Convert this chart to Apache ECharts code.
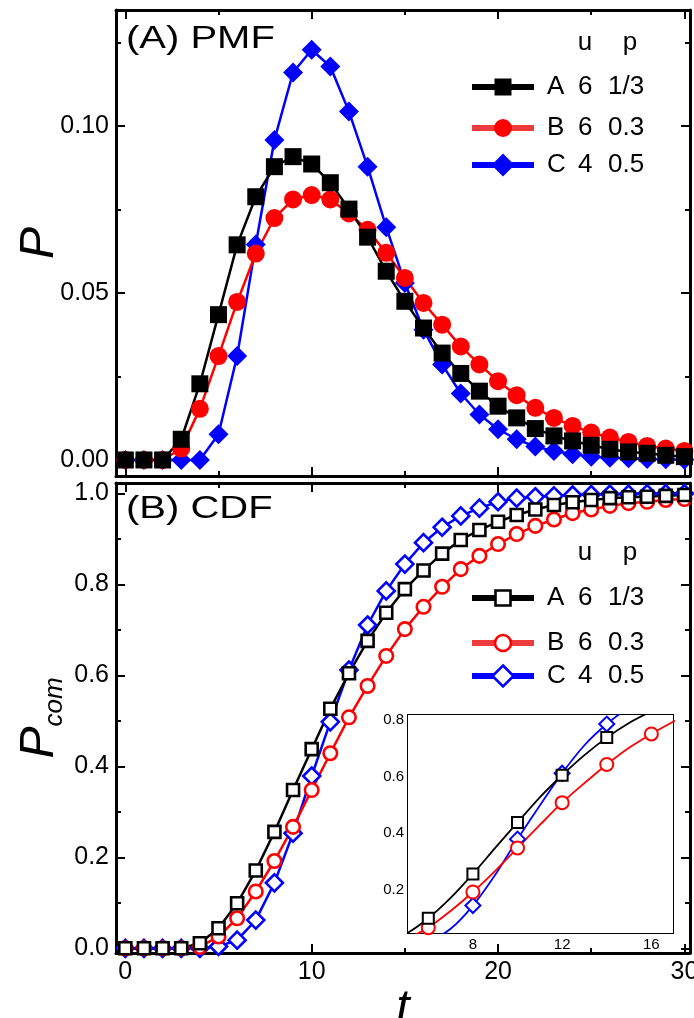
<!DOCTYPE html>
<html>
<head>
<meta charset="utf-8">
<script src="https://cdn.jsdelivr.net/npm/echarts@6/dist/echarts.min.js"></script>
<style>
html,body{margin:0;padding:0;background:#fff;}
#chart{width:694px;height:1018px;}
</style>
</head>
<body>
<div id="chart"></div>
<script>
// ---------------- DATA ----------------
const tValues = [0,1,2,3,4,5,6,7,8,9,10,11,12,13,14,15,16,17,18,19,20,21,22,23,24,25,26,27,28,29,30];

// (A) PMF
const pmfA = [0,0,0,0.0062,0.0228,0.0435,0.0644,0.0788,0.0878,0.0908,0.0886,0.083,0.0751,0.0667,0.0565,0.0475,0.0395,0.032,0.0259,0.0206,0.0161,0.0126,0.0094,0.0072,0.0057,0.0044,0.0032,0.0024,0.002,0.0014,0.001];
const pmfB = [0,0,0,0.0034,0.0153,0.0311,0.0473,0.0618,0.0724,0.078,0.0793,0.078,0.0738,0.0689,0.062,0.0545,0.047,0.0405,0.034,0.0286,0.0236,0.0194,0.0156,0.0126,0.0102,0.0082,0.0067,0.0054,0.0042,0.0034,0.0027];
const pmfC = [0,0,0,0,0,0.0077,0.0311,0.0645,0.0958,0.116,0.1228,0.1178,0.1043,0.0878,0.0697,0.053,0.039,0.0286,0.0199,0.0136,0.0092,0.0062,0.004,0.0027,0.0017,0.001,0.0007,0.0005,0.0003,0.0002,0.0001];

// (B) CDF
const cdfA = [0,0,0,0,0.011,0.044,0.099,0.171,0.256,0.348,0.438,0.527,0.605,0.676,0.738,0.790,0.831,0.868,0.898,0.920,0.938,0.953,0.965,0.975,0.981,0.986,0.990,0.992,0.993,0.995,0.997];
const cdfB = [0,0,0,0,0.003,0.026,0.066,0.125,0.192,0.267,0.348,0.429,0.508,0.577,0.643,0.702,0.751,0.795,0.834,0.863,0.889,0.911,0.929,0.943,0.957,0.965,0.973,0.979,0.982,0.986,0.988];
const cdfC = [0,0,0,0,0,0.004,0.018,0.062,0.144,0.253,0.379,0.498,0.612,0.711,0.786,0.845,0.892,0.926,0.951,0.968,0.982,0.990,0.993,0.995,0.997,0.998,0.999,0.999,1.0,1.0,1.0];

// legend table
const seriesNames = ['A','B','C'];
const uValues = ['6','6','4'];
const pValues = ['1/3','0.3','0.5'];
const legendHeader = ['u','p'];
const panelTitles = ['(A) PMF','(B) CDF'];

// ticks & labels
const xMajor = [0,10,20,30];
const xMajorLabels = ['0','10','20','30'];
const xMinor = [5,15,25];
const pmfMajor = [0,0.05,0.10];
const pmfLabels = ['0.00','0.05','0.10'];
const pmfMinor = [0.025,0.075,0.125];
const cdfMajor = [0,0.2,0.4,0.6,0.8,1.0];
const cdfLabels = ['0.0','0.2','0.4','0.6','0.8','1.0'];
const cdfMinor = [0.1,0.3,0.5,0.7,0.9];
const insetXMajor = [8,12,16];
const insetXLabels = ['8','12','16'];
const insetXMinor = [6,10,14];
const insetYMajor = [0.2,0.4,0.6,0.8];
const insetYLabels = ['0.2','0.4','0.6','0.8'];
const insetYMinor = [0.1,0.3,0.5,0.7];

// ---------------- STYLE ----------------
const FONT = "'Liberation Sans', Arial, sans-serif";
const colors = ['#000000', '#ff0000', '#0000ff'];
const legendLineColors = ['#000000', '#ee3b3b', '#0000ff'];
const symbols = ['rect', 'circle', 'diamond'];

const xAxes = [];
const yAxes = [];

function labelFor(values, labels) {
  return function (v) {
    for (let i = 0; i < values.length; i++) {
      if (Math.abs(values[i] - v) < 1e-9) return labels[i];
    }
    return '';
  };
}

function addAxes(list, dim, gridIndex, min, max, major, minor, labels, cfg) {
  const sides = dim === 'x' ? ['bottom', 'top'] : ['left', 'right'];
  let firstIndex = list.length;
  sides.forEach(function (pos, si) {
    const showLabel = si === 0 && labels;
    const ax = {
      type: 'value', gridIndex: gridIndex, position: pos, min: min, max: max,
      axisLine: { show: true, onZero: false, lineStyle: { color: '#000', width: cfg.lineWidth } },
      axisTick: { show: true, inside: true, length: cfg.majorLen, customValues: major,
        lineStyle: { color: '#000', width: cfg.tickWidth } },
      axisLabel: showLabel ? {
        show: true, customValues: major, formatter: labelFor(major, labels),
        color: '#000', fontFamily: FONT, fontSize: cfg.fontSize, margin: cfg.labelMargin
      } : { show: false },
      splitLine: { show: false },
      minorTick: { show: false }
    };
    if (si === 0 && cfg.name) Object.assign(ax, cfg.name);
    list.push(ax);
    list.push({
      type: 'value', gridIndex: gridIndex, position: pos, min: min, max: max,
      axisLine: { show: false, onZero: false },
      axisTick: { show: true, inside: true, length: cfg.minorLen, customValues: minor,
        lineStyle: { color: '#000', width: cfg.tickWidth } },
      axisLabel: { show: false },
      splitLine: { show: false }
    });
  });
  return firstIndex;
}

const mainCfg = { lineWidth: 3, tickWidth: 2, majorLen: 9, minorLen: 5, fontSize: 25, labelMargin: 7 };
const insetCfg = { lineWidth: 2, tickWidth: 1.5, majorLen: 5, minorLen: 3, fontSize: 15, labelMargin: 4 };

// top panel axes
const topX = addAxes(xAxes, 'x', 0, -0.5, 30.3, xMajor, xMinor, null, mainCfg);
const topY = addAxes(yAxes, 'y', 0, -0.0048, 0.1347, pmfMajor, pmfMinor, pmfLabels, Object.assign({}, mainCfg, {
  name: { name: 'P', nameLocation: 'middle', nameRotate: 90, nameGap: 52, nameMoveOverlap: false,
    nameTextStyle: { fontFamily: FONT, fontStyle: 'italic', fontSize: 48, color: '#000' } }
}));
// bottom panel axes
const botX = addAxes(xAxes, 'x', 1, -0.5, 30.3, xMajor, xMinor, xMajorLabels, Object.assign({}, mainCfg, {
  name: { name: 't', nameLocation: 'middle', nameGap: 20,
    nameTextStyle: { fontFamily: FONT, fontStyle: 'italic', fontSize: 48, color: '#000' } }
}));
const botY = addAxes(yAxes, 'y', 1, -0.0103, 1.0233, cdfMajor, cdfMinor, cdfLabels, Object.assign({}, mainCfg, {
  name: { name: '{p|P}{s|com}', nameLocation: 'middle', nameRotate: 90, nameGap: 52, nameMoveOverlap: false,
    nameTextStyle: { color: '#000', rich: {
      p: { fontFamily: FONT, fontStyle: 'italic', fontSize: 48, color: '#000', verticalAlign: 'bottom' },
      s: { fontFamily: FONT, fontStyle: 'italic', fontSize: 26, color: '#000', verticalAlign: 'bottom', padding: [0, 0, -4, 0] }
    } } }
}));
// inset axes
const insX = addAxes(xAxes, 'x', 2, 5.09, 16.97, insetXMajor, insetXMinor, insetXLabels, insetCfg);
const insY = addAxes(yAxes, 'y', 2, 0.047, 0.818, insetYMajor, insetYMinor, insetYLabels, insetCfg);

function pairs(arr) { return arr.map(function (v, i) { return [tValues[i], v]; }); }

const series = [];
const order = [2, 1, 0]; // C below, then B, A on top
const pmfData = [pmfA, pmfB, pmfC];
const cdfData = [cdfA, cdfB, cdfC];
const pmfSizes = [17, 18, 20];
const cdfSizes = [12, 13.5, 17];
const insetSizes = [11, 13, 15];

order.forEach(function (i) {
  series.push({
    type: 'line', name: seriesNames[i] + ' PMF', xAxisIndex: topX, yAxisIndex: topY,
    data: pairs(pmfData[i]), symbol: symbols[i], symbolSize: pmfSizes[i],
    lineStyle: { color: colors[i], width: 2.5 },
    itemStyle: { color: colors[i], borderWidth: 0 },
    animation: false, silent: true
  });
});
order.forEach(function (i) {
  series.push({
    type: 'line', name: seriesNames[i] + ' CDF', xAxisIndex: botX, yAxisIndex: botY,
    data: pairs(cdfData[i]), symbol: symbols[i], symbolSize: cdfSizes[i],
    lineStyle: { color: colors[i], width: 2.5 },
    itemStyle: { color: '#ffffff', borderColor: colors[i], borderWidth: 2.6 },
    animation: false, silent: true
  });
});
order.forEach(function (i) {
  series.push({
    type: 'line', name: seriesNames[i] + ' CDF inset', xAxisIndex: insX, yAxisIndex: insY,
    data: pairs(cdfData[i]), smooth: 0.3, symbol: symbols[i],
    symbolSize: function (val) {
      const t = val[0];
      return (t % 2 === 0 && t >= 6 && t <= 16) ? insetSizes[i] : 0;
    },
    showAllSymbol: true,
    lineStyle: { color: colors[i], width: 1.8 },
    itemStyle: { color: '#ffffff', borderColor: colors[i], borderWidth: 2 },
    clip: true, animation: false, silent: true
  });
});

// ---------------- GRAPHICS: panel titles and legends ----------------
function txt(s, x, y, size, align, extra) {
  return Object.assign({
    type: 'text', z: 100,
    style: { text: s, x: x, y: y, fontFamily: FONT, fontSize: size, fill: '#000',
      align: align, textAlign: align, verticalAlign: 'middle', textVerticalAlign: 'middle' }
  }, extra || {});
}
function marker(i, cx, cy, hollow) {
  const st = hollow ? { fill: '#fff', stroke: colors[i], lineWidth: 2.6 } : { fill: colors[i] };
  if (symbols[i] === 'rect') {
    const s = hollow ? 15 : 17;
    return { type: 'rect', z: 101, shape: { x: cx - s / 2, y: cy - s / 2, width: s, height: s }, style: st };
  }
  if (symbols[i] === 'circle') {
    const r = hollow ? 8 : 9;
    return { type: 'circle', z: 101, shape: { cx: cx, cy: cy, r: r }, style: st };
  }
  const h = hollow ? 10.5 : 11.5;
  return { type: 'polygon', z: 101, shape: { points: [[cx, cy - h], [cx + h, cy], [cx, cy + h], [cx - h, cy]] }, style: st };
}
function legend(headerY, rowYs, hollow) {
  const els = [];
  els.push(txt(legendHeader[0], 585, headerY, 26, 'center'));
  els.push(txt(legendHeader[1], 630, headerY, 26, 'center'));
  seriesNames.forEach(function (n, i) {
    const y = rowYs[i];
    els.push({ type: 'line', z: 100, shape: { x1: 472, y1: y, x2: 534, y2: y },
      style: { stroke: legendLineColors[i], lineWidth: 6 } });
    els.push(marker(i, 503, y, hollow));
    els.push(txt(n, 547, y, 26, 'left'));
    els.push(txt(uValues[i], 578, y, 26, 'left'));
    els.push(txt(pValues[i], 608, y, 26, 'left'));
  });
  return els;
}

function title(s, y) {
  return { type: 'text', z: 100, x: 126, y: y, scaleX: 1.25, scaleY: 1,
    style: { text: s, x: 0, y: 0, fontFamily: FONT, fontSize: 32, fill: '#000',
      align: 'left', textAlign: 'left', verticalAlign: 'middle', textVerticalAlign: 'middle' } };
}

const graphics = []
  .concat([title(panelTitles[0], 39), title(panelTitles[1], 509)])
  .concat(legend(43, [87, 128, 165], false))
  .concat(legend(553, [598, 643, 676], true));

const option = {
  backgroundColor: '#ffffff',
  animation: false,
  grid: [
    { left: 116, top: 10, width: 574, height: 466, outerBoundsMode: 'none', containLabel: false },
    { left: 116, top: 483, width: 574, height: 470, outerBoundsMode: 'none', containLabel: false },
    { left: 408, top: 715, width: 265, height: 218, show: true, backgroundColor: '#ffffff', borderWidth: 0,
      outerBoundsMode: 'none', containLabel: false, z: 3 }
  ],
  xAxis: xAxes,
  yAxis: yAxes,
  series: series,
  graphic: graphics
};

const chart = echarts.init(document.getElementById('chart'), null, { renderer: 'canvas' });
chart.setOption(option);
</script>
</body>
</html>
